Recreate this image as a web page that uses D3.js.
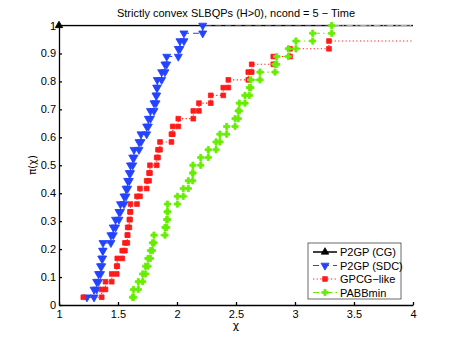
<!DOCTYPE html>
<html>
<head>
<meta charset="utf-8">
<title>Performance profile</title>
<script src="https://d3js.org/d3.v7.min.js"></script>
<style>
    body { margin: 0; background-color: #fff; }
    text { font-family: 'Liberation Sans', Arial, sans-serif; fill: #000; }
    .axis text { font-size: 11px; }
    .axis path, .axis line { stroke: #000; stroke-width: 1.3px; }
    .greek { font-family: 'DejaVu Sans', sans-serif; }
</style>
</head>
<body>
<div id="chart"></div>
<script>
    var width = 457;
    var height = 344;
    var nProblems = 36;

    var seriesNames = ['P2GP (CG)', 'P2GP (SDC)', 'GPCG\u2212like', 'PABBmin'];

    // sorted performance ratios, one per solved problem
    var ratiosCG = [1, 1, 1, 1, 1, 1, 1, 1, 1, 1, 1, 1, 1, 1, 1, 1, 1, 1,
                    1, 1, 1, 1, 1, 1, 1, 1, 1, 1, 1, 1, 1, 1, 1, 1, 1, 1];
    var ratiosSDC = [1.237, 1.297, 1.319, 1.335, 1.352, 1.362, 1.370, 1.373, 1.440,
                     1.460, 1.479, 1.508, 1.521, 1.551, 1.568, 1.582, 1.596, 1.606,
                     1.625, 1.636, 1.678, 1.695, 1.743, 1.757, 1.775, 1.805, 1.822,
                     1.828, 1.833, 1.870, 1.898, 1.913, 2.011, 2.025, 2.059, 2.218];
    var ratiosGPCG = [1.206, 1.362, 1.394, 1.447, 1.489, 1.494, 1.536, 1.559, 1.579,
                      1.582, 1.596, 1.602, 1.606, 1.661, 1.686, 1.743, 1.763, 1.771,
                      1.828, 1.839, 1.856, 1.953, 1.964, 2.011, 2.138, 2.186, 2.286,
                      2.392, 2.435, 2.604, 2.633, 2.816, 2.958, 3.288];
    var ratiosPABB = [1.623, 1.631, 1.672, 1.709, 1.733, 1.754, 1.775, 1.792, 1.805,
                      1.898, 1.913, 1.918, 1.919, 2.003, 2.053, 2.096, 2.133, 2.135,
                      2.201, 2.265, 2.331, 2.364, 2.421, 2.492, 2.519, 2.528, 2.576,
                      2.613, 2.625, 2.703, 2.831, 2.845, 2.943, 3.008, 3.150, 3.311];

    var xTicks = [1, 1.5, 2, 2.5, 3, 3.5, 4];
    var yTicks = [0, 0.1, 0.2, 0.3, 0.4, 0.5, 0.6, 0.7, 0.8, 0.9, 1];

    var colors = ['#000000', '#2343ff', '#ff1a1a', '#66ee00'];
    var dashes = ['none', '6,4', '1.2,2.4', '6,3,1.5,3'];
    var symbols = [d3.symbolTriangle, d3.symbolTriangle, d3.symbolSquare, d3.symbolCross];
    var symbolSizes = [24, 28, 22, 22];
    var rotations = [0, 180, 0, 0];

    var svg = d3.select('#chart')
                .append('svg')
                .attr('width', width)
                .attr('height', height)
                .style('background-color', '#fff');

    var x = d3.scaleLinear().domain([1, 4]).range([59, 413]);
    var y = d3.scaleLinear().domain([0, 1]).range([305, 25.5]);

    svg.append('defs').append('clipPath').attr('id', 'plotclip')
        .append('rect')
        .attr('x', x(1)).attr('y', y(1) - 1)
        .attr('width', x(4) - x(1)).attr('height', y(0) - y(1) + 2);

    // build the stair vertices of a profile
    function stairs(ratios) {
        var uniq = Array.from(new Set(ratios)).sort(d3.ascending);
        var pts = [];
        var prev = 0;
        uniq.forEach(function(u, j) {
            var c = ratios.filter(function(r) { return r <= u; }).length;
            if (j > 0) pts.push([u, prev / nProblems]);
            pts.push([u, c / nProblems]);
            prev = c;
        });
        return pts;
    }

    var allRatios = [ratiosCG, ratiosSDC, ratiosGPCG, ratiosPABB];

    var line = d3.line()
        .x(function(d) { return x(d[0]); })
        .y(function(d) { return y(d[1]); });

    allRatios.forEach(function(ratios, i) {
        var pts = stairs(ratios);
        var last = pts[pts.length - 1];
        var linePts = pts.concat([[4, last[1]]]);

        svg.append('path')
            .datum(linePts)
            .attr('clip-path', 'url(#plotclip)')
            .attr('d', line)
            .style('fill', 'none')
            .style('stroke', colors[i])
            .style('stroke-width', i === 0 ? 1.5 : 1.1)
            .style('stroke-dasharray', dashes[i]);

        svg.append('g').selectAll('path')
            .data(pts)
            .enter().append('path')
            .attr('d', d3.symbol().type(symbols[i]).size(symbolSizes[i]))
            .attr('transform', function(d) {
                return 'translate(' + x(d[0]) + ',' + y(d[1]) + ') rotate(' + rotations[i] + ')';
            })
            .style('fill', colors[i])
            .style('stroke', colors[i])
            .style('stroke-width', 0.8);
    });

    // axes
    svg.append('g')
        .attr('class', 'axis')
        .attr('transform', 'translate(0,' + y(0) + ')')
        .call(d3.axisBottom(x).tickValues(xTicks).tickFormat(d3.format('')).tickSizeInner(-3).tickSizeOuter(0).tickPadding(5));

    svg.append('g')
        .attr('class', 'axis')
        .attr('transform', 'translate(' + x(1) + ',0)')
        .call(d3.axisLeft(y).tickValues(yTicks).tickFormat(d3.format('')).tickSizeInner(-3).tickSizeOuter(0).tickPadding(3));

    svg.selectAll('.axis .domain').style('fill', 'none');

    // title and labels
    svg.append('text')
        .attr('x', 236)
        .attr('y', 16.5)
        .attr('text-anchor', 'middle')
        .style('font-size', '11px')
        .text('Strictly convex SLBQPs (H>0), ncond = 5 \u2212 Time');

    svg.append('text')
        .attr('class', 'greek')
        .attr('x', 236)
        .attr('y', 329)
        .attr('text-anchor', 'middle')
        .style('font-size', '11px')
        .text('\u03c7');

    svg.append('text')
        .attr('class', 'greek')
        .attr('transform', 'translate(36,165) rotate(-90)')
        .attr('text-anchor', 'middle')
        .style('font-size', '10px')
        .text('\u03c0(\u03c7)');

    // legend
    var legend = svg.append('g');
    legend.append('rect')
        .attr('x', 308).attr('y', 243)
        .attr('width', 93).attr('height', 56)
        .style('fill', '#fff')
        .style('stroke', '#444')
        .style('stroke-width', 0.8);

    seriesNames.forEach(function(name, i) {
        var ly = 252 + i * 13.5;
        legend.append('line')
            .attr('x1', 313).attr('x2', 337)
            .attr('y1', ly).attr('y2', ly)
            .style('stroke', colors[i])
            .style('stroke-width', i === 0 ? 1.5 : 1.1)
            .style('stroke-dasharray', dashes[i]);
        legend.append('path')
            .attr('d', d3.symbol().type(symbols[i]).size(symbolSizes[i]))
            .attr('transform', 'translate(325,' + ly + ') rotate(' + rotations[i] + ')')
            .style('fill', colors[i])
            .style('stroke', colors[i])
            .style('stroke-width', 0.8);
        legend.append('text')
            .attr('x', 340)
            .attr('y', ly + 4)
            .style('font-size', '11px')
            .text(name);
    });
</script>
</body>
</html>
